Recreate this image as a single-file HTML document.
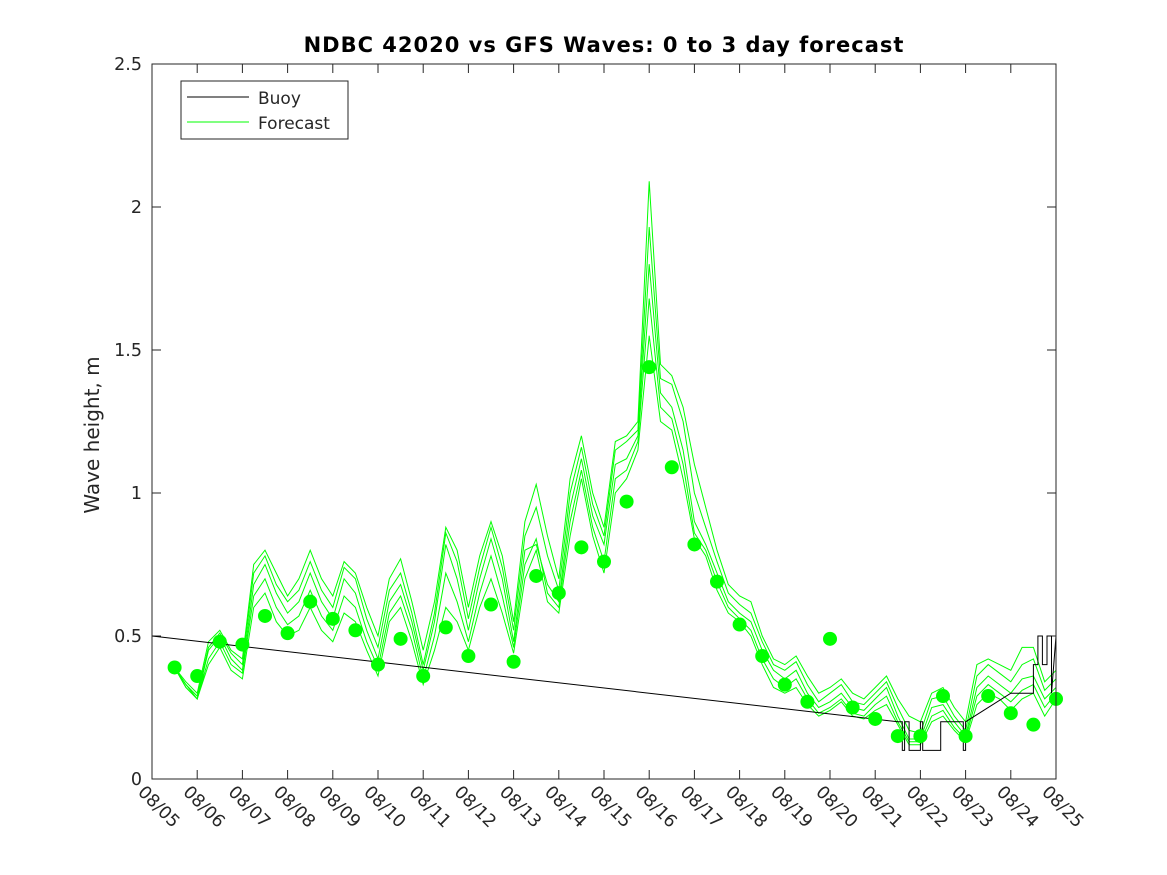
<!DOCTYPE html>
<html><head><meta charset="utf-8"><style>
body{margin:0;background:#fff}
svg{display:block;font-family:"DejaVu Sans","Liberation Sans",sans-serif}
</style></head><body>
<svg id="chart" width="1167" height="875">
<rect width="1167" height="875" fill="#fff"/>
<text x="604" y="52" text-anchor="middle" font-size="21" letter-spacing="1" font-weight="bold">NDBC 42020 vs GFS Waves: 0 to 3 day forecast</text>
<text transform="translate(99,435) rotate(-90)" text-anchor="middle" font-size="20" fill="#262626">Wave height, m</text>
<g id="plot"></g>
<rect x="152" y="64" width="904" height="715" fill="none" stroke="#262626" stroke-width="1"/>
<g>
<rect x="181" y="81" width="167" height="58" fill="#fff" stroke="#262626"/>
<line x1="187" y1="97" x2="249" y2="97" stroke="#000"/>
<text x="258" y="104" font-size="17" fill="#262626">Buoy</text>
<line x1="187" y1="122" x2="249" y2="122" stroke="#0f0"/>
<text x="258" y="129" font-size="17" fill="#262626">Forecast</text>
</g>
</svg>
<script>
const yTicks=[0,0.5,1,1.5,2,2.5];
const yTickLabels=["0","0.5","1","1.5","2","2.5"];
const xTickDays=[5,6,7,8,9,10,11,12,13,14,15,16,17,18,19,20,21,22,23,24,25];
const xTickLabels=["08/05","08/06","08/07","08/08","08/09","08/10","08/11","08/12","08/13","08/14","08/15","08/16","08/17","08/18","08/19","08/20","08/21","08/22","08/23","08/24","08/25"];
const obsDays=[5.5,6,6.5,7,7.5,8,8.5,9,9.5,10,10.5,11,11.5,12,12.5,13,13.5,14,14.5,15,15.5,16,16.5,17,17.5,18,18.5,19,19.5,20,20.5,21,21.5,22,22.5,23,23.5,24,24.5,25];
const obsValues=[0.39,0.36,0.48,0.47,0.57,0.51,0.62,0.56,0.52,0.40,0.49,0.36,0.53,0.43,0.61,0.41,0.71,0.65,0.81,0.76,0.97,1.44,1.09,0.82,0.69,0.54,0.43,0.33,0.27,0.49,0.25,0.21,0.15,0.15,0.29,0.15,0.29,0.23,0.19,0.28];
const buoyDays=[5,21.5,21.55,21.6,21.6,21.65,21.65,21.75,21.75,21.85,21.85,22.0,22.0,22.05,22.05,22.45,22.45,22.95,22.95,23.0,23.0,24.0,24.3,24.5,24.5,24.6,24.6,24.7,24.7,24.8,24.8,24.9,24.9,25];
const buoyValues=[0.50,0.20,0.20,0.20,0.10,0.10,0.20,0.20,0.10,0.10,0.10,0.10,0.20,0.20,0.10,0.10,0.20,0.20,0.10,0.10,0.20,0.30,0.30,0.30,0.40,0.40,0.50,0.50,0.40,0.40,0.50,0.50,0.30,0.50];
const fcStart=5.5, fcStep=0.25;
const fcMid=[0.39,0.33,0.28,0.45,0.50,0.42,0.38,0.68,0.75,0.65,0.58,0.62,0.72,0.62,0.56,0.70,0.65,0.52,0.42,0.62,0.68,0.55,0.38,0.55,0.82,0.70,0.52,0.70,0.84,0.70,0.48,0.80,0.82,0.68,0.62,0.95,1.12,0.92,0.82,1.10,1.12,1.20,1.80,1.35,1.30,1.15,0.90,0.82,0.72,0.62,0.58,0.55,0.45,0.38,0.35,0.38,0.30,0.25,0.27,0.30,0.25,0.24,0.28,0.32,0.22,0.14,0.14,0.25,0.26,0.20,0.15,0.32,0.36,0.33,0.30,0.35,0.36,0.28,0.32];
const fcHigh=[0.39,0.34,0.30,0.48,0.52,0.45,0.42,0.75,0.80,0.72,0.64,0.70,0.80,0.70,0.64,0.76,0.72,0.60,0.50,0.70,0.77,0.62,0.45,0.62,0.88,0.80,0.60,0.78,0.90,0.78,0.55,0.90,1.03,0.85,0.70,1.05,1.20,1.00,0.88,1.18,1.20,1.25,2.09,1.45,1.41,1.30,1.10,0.95,0.80,0.68,0.64,0.62,0.50,0.42,0.40,0.43,0.36,0.30,0.32,0.35,0.30,0.28,0.32,0.36,0.28,0.22,0.20,0.30,0.32,0.25,0.20,0.40,0.42,0.40,0.38,0.46,0.46,0.34,0.38];
const fcLow=[0.39,0.32,0.28,0.40,0.46,0.38,0.35,0.60,0.65,0.55,0.50,0.52,0.60,0.52,0.48,0.58,0.55,0.45,0.36,0.55,0.60,0.48,0.33,0.45,0.60,0.55,0.45,0.60,0.70,0.58,0.44,0.70,0.80,0.62,0.58,0.85,1.05,0.85,0.72,1.00,1.05,1.15,1.55,1.25,1.22,1.05,0.84,0.78,0.66,0.58,0.55,0.50,0.40,0.32,0.30,0.32,0.26,0.22,0.24,0.27,0.22,0.21,0.24,0.26,0.19,0.12,0.12,0.20,0.22,0.17,0.13,0.26,0.30,0.28,0.24,0.28,0.30,0.22,0.28];
const fcAlt1=[0.39,0.33,0.29,0.46,0.51,0.44,0.40,0.72,0.78,0.68,0.62,0.66,0.76,0.66,0.60,0.74,0.70,0.56,0.46,0.66,0.72,0.58,0.40,0.58,0.86,0.76,0.56,0.74,0.88,0.74,0.52,0.85,0.95,0.78,0.66,1.00,1.16,0.96,0.85,1.15,1.18,1.22,1.93,1.40,1.38,1.25,1.00,0.88,0.76,0.65,0.61,0.58,0.48,0.40,0.38,0.41,0.33,0.27,0.30,0.33,0.27,0.26,0.30,0.34,0.25,0.17,0.16,0.28,0.29,0.22,0.17,0.36,0.40,0.37,0.34,0.40,0.42,0.31,0.35];
const fcAlt2=[0.39,0.32,0.28,0.42,0.48,0.40,0.37,0.64,0.70,0.60,0.54,0.57,0.66,0.57,0.52,0.64,0.60,0.48,0.39,0.58,0.64,0.52,0.35,0.50,0.72,0.62,0.48,0.65,0.78,0.64,0.46,0.75,0.84,0.65,0.60,0.90,1.08,0.88,0.76,1.05,1.08,1.18,1.68,1.30,1.26,1.10,0.86,0.80,0.69,0.60,0.56,0.52,0.42,0.35,0.32,0.35,0.28,0.23,0.25,0.28,0.23,0.22,0.26,0.29,0.20,0.13,0.13,0.22,0.24,0.18,0.14,0.29,0.33,0.30,0.27,0.31,0.33,0.25,0.30];
const fcSeries=[fcMid,fcHigh,fcLow,fcAlt1,fcAlt2];
const fcNames=["forecast-mid","forecast-high","forecast-low","forecast-alt-1","forecast-alt-2"];

const NS="http://www.w3.org/2000/svg";
const X0=152,X1=1056,Y0=779,Y1=64,D0=5,D1=25,V0=0,V1=2.5;
const xs=d=>X0+(d-D0)/(D1-D0)*(X1-X0);
const ys=v=>Y0-(v-V0)/(V1-V0)*(Y0-Y1);
const plot=document.getElementById('plot');
function mk(tag,attrs,parent){const e=document.createElementNS(NS,tag);for(const k in attrs)e.setAttribute(k,attrs[k]);(parent||plot).appendChild(e);return e;}

yTicks.forEach((v,i)=>{
  const y=ys(v);
  const t1=mk('line',{x1:X0,y1:y,x2:X0+9,y2:y,stroke:'#262626'});
  
  
  const t2=mk('line',{x1:X1,y1:y,x2:X1-9,y2:y,stroke:'#262626'});
  
  
  const lb=mk('text',{x:X0-10,y:y+6,'text-anchor':'end','font-size':17.5,fill:'#262626'});
  lb.textContent=yTickLabels[i];
  
  
});
xTickDays.forEach((d,i)=>{
  const x=xs(d);
  const t1=mk('line',{x1:x,y1:Y0,x2:x,y2:Y0-9,stroke:'#262626'});
  
  
  const t2=mk('line',{x1:x,y1:Y1,x2:x,y2:Y1+9,stroke:'#262626'});
  
  
  const lb=mk('text',{transform:`translate(${x-15},${Y0+14}) rotate(45)`,'font-size':17.5,fill:'#262626'});
  lb.textContent=xTickLabels[i];
  
  
});
fcSeries.forEach((s,j)=>{
  const pts=s.map((v,i)=>xs(fcStart+i*fcStep).toFixed(1)+','+ys(v).toFixed(1)).join(' ');
  const pl=mk('polyline',{points:pts,fill:'none',stroke:'#00ff00','stroke-width':1});
  
  
});
const bpts=buoyDays.map((d,i)=>xs(d).toFixed(1)+','+ys(buoyValues[i]).toFixed(1)).join(' ');
const bl=mk('polyline',{points:bpts,fill:'none',stroke:'#000','stroke-width':1});


obsDays.forEach((d,i)=>{
  const c=mk('circle',{cx:xs(d),cy:ys(obsValues[i]),r:7,fill:'#00ff00'});
  
  
});
</script>
</body></html>
